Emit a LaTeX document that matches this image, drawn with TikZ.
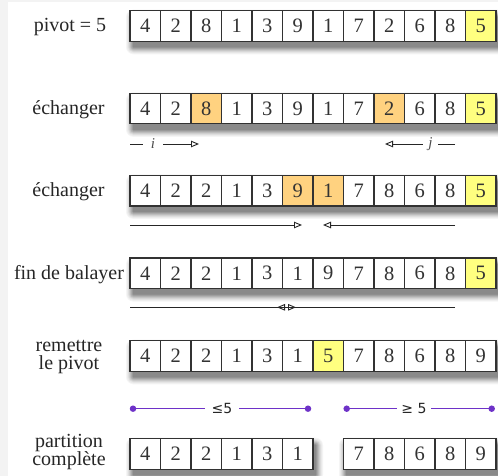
\documentclass[tikz,border=0pt]{standalone}
\usepackage{fontspec}
\setmainfont{Liberation Serif}
\newfontfamily\rangefont{DejaVu Sans}
\usetikzlibrary{arrows.meta}
\definecolor{bggray}{RGB}{243,243,243}
\definecolor{hlorange}{RGB}{255,210,128}
\definecolor{hlyellow}{RGB}{255,255,128}
\definecolor{purp}{RGB}{110,50,200}
\definecolor{cellline}{RGB}{50,50,50}
\tikzset{
 cell/.style={draw=cellline, line width=1.2pt, fill=white, minimum width=30.5pt, minimum height=30.6pt, inner sep=0pt, font=\rmfamily\fontsize{20.5}{22}\selectfont, text=black!80},
 lbl/.style={font=\rmfamily\fontsize{20}{18.5}\selectfont, align=center, inner sep=0pt, text=black!85},
 ptr/.style={line width=0.9pt, draw=black!85, -{Triangle[open, length=8pt, width=6.5pt]}},
 seg/.style={line width=0.9pt, draw=black!85},
 idx/.style={font=\rmfamily\fontsize{15}{15}\selectfont\itshape, text=black!70, inner sep=0pt},
 purpline/.style={draw=purp, line width=1.2pt},
 pdot/.style={circle, fill=purp, minimum size=6.5pt, inner sep=0pt},
 rangelbl/.style={font=\rangefont\fontsize{14}{14}\selectfont, fill=white, inner sep=0pt, text=black!85},
}
\newcommand\rowshadow[3]{%
  \foreach \e/\o in {7/4,6/8,5/13,4/19,3/26,2/33,1/40,0/46}{%
    \fill[black!\o, rounded corners=\e pt+0.5pt] ({#1+3-\e},{#2+6-\e}) rectangle ({#3+3+\e},{#2+30.6+6+\e});
  }%
}
\begin{document}
\begin{tikzpicture}[x=1pt,y=-1pt]
\useasboundingbox (0,0) rectangle (498,476);
\fill[bggray] (0,0) rectangle (498,476);
\fill[white] (8,2) rectangle (498,476);

% shadows
\rowshadow{130}{10.7}{496}
\rowshadow{130}{93.3}{496}
\rowshadow{130}{175.3}{496}
\rowshadow{130}{258}{496}
\rowshadow{130}{340.7}{496}
\rowshadow{130}{438.7}{313}
\rowshadow{343}{438.7}{496}

% row 1
\foreach \v/\f [count=\k] in {4/white,2/white,8/white,1/white,3/white,9/white,1/white,7/white,2/white,6/white,8/white,5/hlyellow}
  \node[cell, fill=\f] (a\k) at ({130+15.25+30.5*(\k-1)},26) {\v};
% row 2
\foreach \v/\f [count=\k] in {4/white,2/white,8/hlorange,1/white,3/white,9/white,1/white,7/white,2/hlorange,6/white,8/white,5/hlyellow}
  \node[cell, fill=\f] (b\k) at ({130+15.25+30.5*(\k-1)},108.6) {\v};
% row 3
\foreach \v/\f [count=\k] in {4/white,2/white,2/white,1/white,3/white,9/hlorange,1/hlorange,7/white,8/white,6/white,8/white,5/hlyellow}
  \node[cell, fill=\f] (c\k) at ({130+15.25+30.5*(\k-1)},190.6) {\v};
% row 4
\foreach \v/\f [count=\k] in {4/white,2/white,2/white,1/white,3/white,1/white,9/white,7/white,8/white,6/white,8/white,5/hlyellow}
  \node[cell, fill=\f] (d\k) at ({130+15.25+30.5*(\k-1)},273.3) {\v};
% row 5
\foreach \v/\f [count=\k] in {4/white,2/white,2/white,1/white,3/white,1/white,5/hlyellow,7/white,8/white,6/white,8/white,9/white}
  \node[cell, fill=\f] (e\k) at ({130+15.25+30.5*(\k-1)},356) {\v};
% row 6
\foreach \v [count=\k] in {4,2,2,1,3,1}
  \node[cell] (f\k) at ({130+15.25+30.5*(\k-1)},454) {\v};
\foreach \v [count=\k from 8] in {7,8,6,8,9}
  \node[cell] (f\k) at ({130+15.25+30.5*(\k-1)},454) {\v};

% labels
\node[lbl] (l1) at (70,27) {pivot = 5};
\node[lbl] (l2) at (68.5,109.6) {échanger};
\node[lbl] (l3) at (68.5,191.6) {échanger};
\node[lbl] (l4) at (69,274.3) {fin de balayer};
\node[lbl] (l5) at (69,357) {remettre\\le pivot};
\node[lbl] (l6) at (69,452) {partition\\complète};

% row 2 pointers
\coordinate (i2s) at (130,144);
\node[idx, minimum width=20pt] (i2) at (153,144) {i};
\coordinate (i2e) at (199,144);
\draw[seg] (i2s) -- (i2);
\draw[ptr] (i2) -- (i2e);
\coordinate (j2s) at (455,144);
\node[idx, minimum width=15pt] (j2) at (430.5,144) {j};
\coordinate (j2e) at (385,144);
\draw[seg] (j2s) -- (j2);
\draw[ptr] (j2) -- (j2e);

% row 3 pointers
\coordinate (i3s) at (130,225);
\coordinate (i3e) at (302,225);
\coordinate (j3s) at (455,225);
\coordinate (j3e) at (323,225);
\draw[ptr] (i3s) -- (i3e);
\draw[ptr] (j3s) -- (j3e);

% row 4 pointers
\coordinate (i4s) at (130,307.3);
\coordinate (i4e) at (296,307.3);
\coordinate (j4s) at (455,307.3);
\coordinate (j4e) at (277,307.3);
\draw[ptr] (i4s) -- (i4e);
\draw[ptr] (j4s) -- (j4e);

% partition ranges
\node[pdot] (p1) at (133,408.7) {};
\node[pdot] (p2) at (308,408.7) {};
\node[pdot] (p3) at (346.7,408.7) {};
\node[pdot] (p4) at (491.7,408.7) {};
\draw[purpline] (p1.center) -- (p2.center);
\draw[purpline] (p3.center) -- (p4.center);
\node[rangelbl, minimum width=34pt, minimum height=14pt] (r1) at (222,408.7) {≤5};
\node[rangelbl, minimum width=34pt, minimum height=14pt] (r2) at (414,408.7) {≥ 5};
\end{tikzpicture}
\end{document}
